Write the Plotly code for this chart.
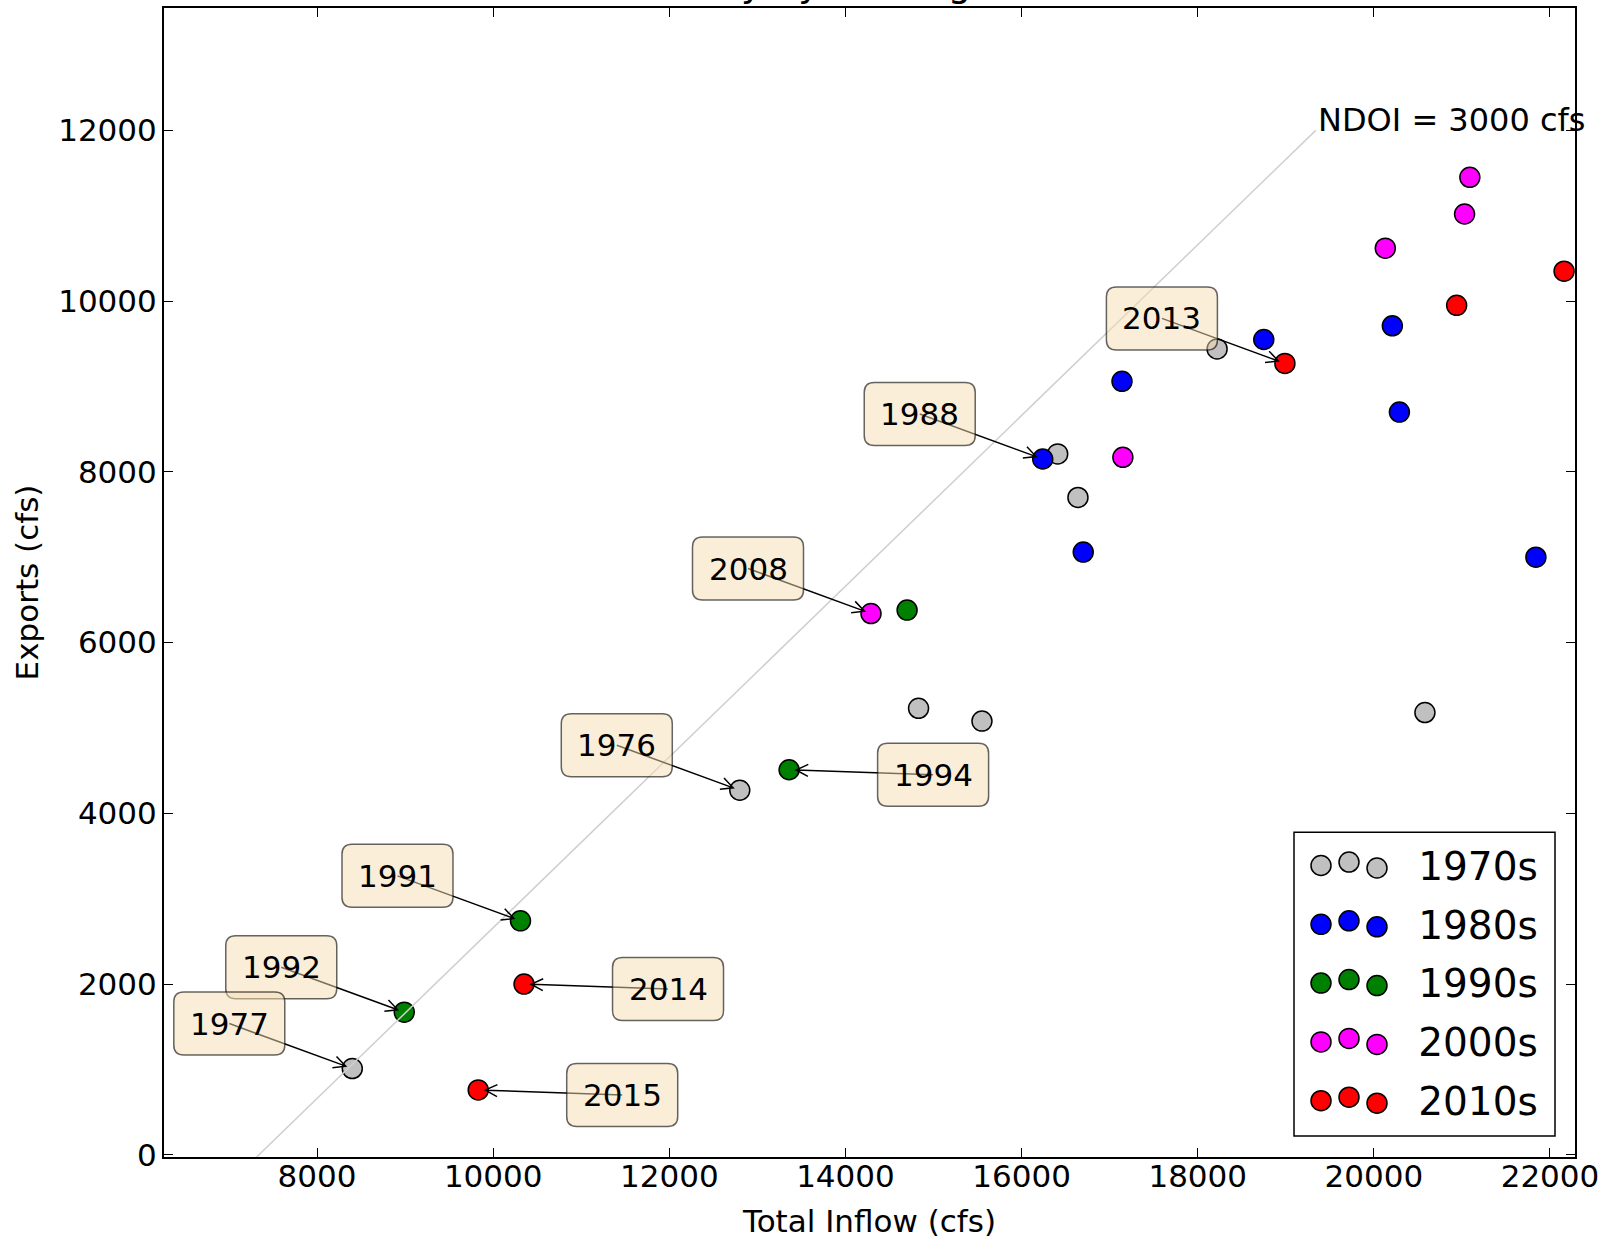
import math
import plotly.graph_objects as go

# ---------------- data ----------------
decades = ["1970s", "1980s", "1990s", "2000s", "2010s"]
colors = ["#c0c0c0", "#0000ff", "#008000", "#ff00ff", "#ff0000"]

inflow_1970s = [8400, 12800, 14830, 15550, 16410, 16640, 18220, 20580]
exports_1970s = [1010, 4270, 5230, 5080, 8210, 7700, 9440, 5180]
inflow_1980s = [16240, 16700, 17140, 18750, 20210, 20290, 21840]
exports_1980s = [8150, 7060, 9060, 9550, 9710, 8700, 7000]
inflow_1990s = [8990, 10310, 13360, 14700]
exports_1990s = [1670, 2740, 4510, 6380]
inflow_2000s = [14290, 17150, 20130, 21030, 21090]
exports_2000s = [6340, 8170, 10620, 11020, 11450]
inflow_2010s = [9830, 10350, 18990, 20940, 22160]
exports_2010s = [760, 2000, 9270, 9950, 10350]

inflows = [inflow_1970s, inflow_1980s, inflow_1990s, inflow_2000s, inflow_2010s]
exports = [exports_1970s, exports_1980s, exports_1990s, exports_2000s, exports_2010s]

# labelled years: which decade series / which point
label_years = ["1976", "1988", "1992", "1977", "1991", "1994", "2008", "2013", "2014", "2015"]
label_decade = [0, 1, 2, 0, 2, 2, 3, 4, 4, 4]
label_point = [1, 0, 0, 0, 1, 2, 0, 2, 1, 0]
label_side = ["left", "left", "left", "left", "left", "right", "left", "left", "right", "right"]

# NDOI = 3000 cfs reference line
ndoi_inflow = [6340, 19340]
ndoi_exports = [-1000, 12000]
ndoi_label = "NDOI = 3000 cfs"

x_ticks = [8000, 10000, 12000, 14000, 16000, 18000, 20000, 22000]
y_ticks = [0, 2000, 4000, 6000, 8000, 10000, 12000]

FONT = "DejaVu Sans"
W, H = 1610, 1239
ML, MR, MT, MB = 164, 35, 6, 80
PW, PH = W - ML - MR, H - MT - MB


def px_to_paper_x(px):
    return (px - ML) / PW


def px_to_paper_y(py):
    return (H - MB - py) / PH


fig = go.Figure()

for name, col, xs, ys in zip(decades, colors, inflows, exports):
    fig.add_trace(go.Scatter(
        x=xs, y=ys, mode="markers", name=name, showlegend=False,
        marker=dict(size=20, color=col, line=dict(color="black", width=1.5)),
    ))

fig.add_trace(go.Scatter(
    x=ndoi_inflow, y=ndoi_exports, mode="lines", showlegend=False,
    line=dict(color="#cfcfcf", width=1.5), hoverinfo="skip",
))

# legend entries (symbols drawn as three dots below, matplotlib style)
for name, col in zip(decades, colors):
    fig.add_trace(go.Scatter(
        x=[None], y=[None], mode="markers", name=name, showlegend=True,
        legendgroup=name,
        marker=dict(size=10, color="rgba(0,0,0,0)", line=dict(width=0)),
    ))

shapes = []
annotations = []

BOX_W, BOX_H, RAD = 111, 63, 10
HEAD_L, HEAD_W, STANDOFF = 12, 6, 7


def rounded_box(cx, cy):
    x0, x1 = cx - BOX_W / 2, cx + BOX_W / 2
    y0, y1 = cy - BOX_H / 2, cy + BOX_H / 2
    r = RAD
    return (f"M{x0 + r},{y0} L{x1 - r},{y0} Q{x1},{y0} {x1},{y0 + r} "
            f"L{x1},{y1 - r} Q{x1},{y1} {x1 - r},{y1} L{x0 + r},{y1} "
            f"Q{x0},{y1} {x0},{y1 - r} L{x0},{y0 + r} Q{x0},{y0} {x0 + r},{y0} Z")


def arrow_path(cx, cy):
    d = math.hypot(cx, cy)
    ux, uy = cx / d, cy / d
    tx, ty = ux * STANDOFF, uy * STANDOFF
    nx, ny = -uy, ux
    bx, by = tx + ux * HEAD_L, ty + uy * HEAD_L
    a1x, a1y = bx + nx * HEAD_W, by + ny * HEAD_W
    a2x, a2y = bx - nx * HEAD_W, by - ny * HEAD_W
    return (f"M{cx},{cy} L{tx},{ty} M{a1x},{a1y} L{tx},{ty} L{a2x},{a2y}")


for yr, d, p, side in zip(label_years, label_decade, label_point, label_side):
    x = inflows[d][p]
    y = exports[d][p]
    # offset of label centre from the point, pixels (y up)
    cx, cy = (-123, 45) if side == "left" else (144, -5)
    shapes.append(dict(
        type="path", xref="x", yref="y", xsizemode="pixel", ysizemode="pixel",
        xanchor=x, yanchor=y, path=arrow_path(cx, cy), layer="above",
        line=dict(color="black", width=1.5), fillcolor="rgba(0,0,0,0)",
    ))
    shapes.append(dict(
        type="path", xref="x", yref="y", xsizemode="pixel", ysizemode="pixel",
        xanchor=x, yanchor=y, path=rounded_box(cx, cy), layer="above",
        line=dict(color="rgba(0,0,0,0.6)", width=1.5),
        fillcolor="rgba(245,222,179,0.5)",
    ))
    annotations.append(dict(
        x=x, y=y, xref="x", yref="y", text=yr, showarrow=False,
        xshift=cx, yshift=cy, xanchor="center", yanchor="middle",
        font=dict(family=FONT, size=31, color="black"),
    ))

# legend frame and three-dot symbols
shapes.append(dict(
    type="rect", xref="paper", yref="paper", layer="above",
    x0=px_to_paper_x(1294), x1=px_to_paper_x(1555),
    y0=px_to_paper_y(1138), y1=px_to_paper_y(833),
    line=dict(color="black", width=1.5), fillcolor="white",
))
dot_dx = [1321, 1349, 1377]
dot_dy = [0, -3.5, 2.5]
row_y0, row_step = 866.5, 59.0
for i, col in enumerate(colors):
    for dx, dy in zip(dot_dx, dot_dy):
        shapes.append(dict(
            type="circle", xref="paper", yref="paper", layer="above",
            xsizemode="pixel", ysizemode="pixel",
            xanchor=px_to_paper_x(dx), yanchor=px_to_paper_y(row_y0 + i * row_step + dy),
            x0=-10, x1=10, y0=-10, y1=10,
            fillcolor=col, line=dict(color="black", width=1.5),
        ))

annotations.append(dict(
    x=ndoi_inflow[1], y=ndoi_exports[1], xref="x", yref="y", text=ndoi_label,
    showarrow=False, xanchor="left", yanchor="bottom", yshift=-11,
    font=dict(family=FONT, size=32, color="black"),
))

# title (mostly cut off above the figure, as in the reference)
annotations.append(dict(
    x=0.1995, y=1, xref="paper", yref="paper", text="Summer Monthly by WY Avg Flow",
    showarrow=False, xanchor="left", yanchor="bottom", yshift=2, borderpad=0,
    font=dict(family=FONT, size=37, color="black"),
))

axis_common = dict(
    showline=True, linecolor="black", linewidth=2, mirror="allticks",
    ticks="inside", ticklen=9, tickwidth=1, tickcolor="black",
    showgrid=False, zeroline=False,
    tickfont=dict(family=FONT, size=31, color="black"),
)

fig.update_layout(
    width=W, height=H,
    margin=dict(l=ML, r=MR, t=MT, b=MB),
    paper_bgcolor="white", plot_bgcolor="white",
    font=dict(family=FONT, color="black"),
    xaxis=dict(range=[6262, 22284], tickvals=x_ticks,
               ticktext=[str(v) for v in x_ticks],
               title=dict(text="Total Inflow (cfs)", font=dict(family=FONT, size=31), standoff=17),
               ticklabelstandoff=-9, **axis_common),
    yaxis=dict(range=[-26, 13433], tickvals=y_ticks,
               ticktext=[str(v) for v in y_ticks],
               title=dict(text="Exports (cfs)", font=dict(family=FONT, size=31), standoff=10),
               ticklabelstandoff=-1, **axis_common),
    legend=dict(
        x=0.801, y=0.282, xanchor="left", yanchor="top",
        bgcolor="rgba(0,0,0,0)", borderwidth=0,
        font=dict(family=FONT, size=39, color="black"),
        itemwidth=114, tracegroupgap=5, itemsizing="trace",
    ),
    shapes=shapes,
    annotations=annotations,
    showlegend=True,
)

fig.write_html("out.html", config={"displayModeBar": False},
               post_script="document.body.style.margin='0';")
